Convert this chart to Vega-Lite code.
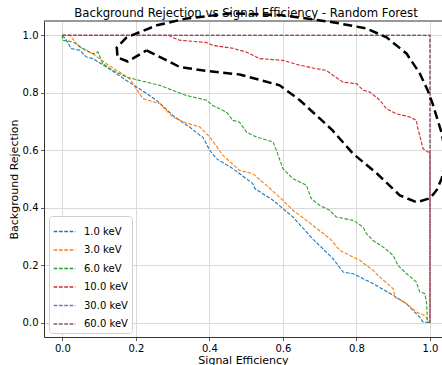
{
  "$schema": "https://vega.github.io/schema/vega-lite/v6.json",
  "width": 398,
  "height": 316,
  "autosize": {"type": "none"},
  "padding": {"left": 44, "top": 21, "right": 0, "bottom": 28},
  "config": {
    "font": "DejaVu Sans",
    "view": {"stroke": null},
    "axis": {
      "labelFontSize": 10,
      "labelColor": "#000",
      "titleFontSize": 11,
      "titleFontWeight": "normal",
      "titleColor": "#000",
      "tickSize": 3.5,
      "tickColor": "#333",
      "tickWidth": 0.8,
      "domainColor": "#333",
      "domainWidth": 1,
      "gridColor": "#d6d6d6",
      "gridWidth": 0.9,
      "labelPadding": 2.5
    }
  },
  "title": {
    "text": "Background Rejection vs Signal Efficiency - Random Forest",
    "fontSize": 11.7,
    "fontWeight": "normal",
    "color": "#000",
    "anchor": "middle",
    "offset": -11,
    "dx": 3
  },
  "datasets": {
    "roc": [
      {"s": "1.0 keV", "i": 0, "x": 0, "y": 1},
      {"s": "1.0 keV", "i": 1, "x": 0.01, "y": 0.985},
      {"s": "1.0 keV", "i": 2, "x": 0.024, "y": 0.954},
      {"s": "1.0 keV", "i": 3, "x": 0.047, "y": 0.948},
      {"s": "1.0 keV", "i": 4, "x": 0.065, "y": 0.925},
      {"s": "1.0 keV", "i": 5, "x": 0.083, "y": 0.919},
      {"s": "1.0 keV", "i": 6, "x": 0.12, "y": 0.89},
      {"s": "1.0 keV", "i": 7, "x": 0.174, "y": 0.843},
      {"s": "1.0 keV", "i": 8, "x": 0.21, "y": 0.814},
      {"s": "1.0 keV", "i": 9, "x": 0.256, "y": 0.774},
      {"s": "1.0 keV", "i": 10, "x": 0.3, "y": 0.722},
      {"s": "1.0 keV", "i": 11, "x": 0.319, "y": 0.704},
      {"s": "1.0 keV", "i": 12, "x": 0.346, "y": 0.681},
      {"s": "1.0 keV", "i": 13, "x": 0.374, "y": 0.652},
      {"s": "1.0 keV", "i": 14, "x": 0.382, "y": 0.646},
      {"s": "1.0 keV", "i": 15, "x": 0.401, "y": 0.6},
      {"s": "1.0 keV", "i": 16, "x": 0.419, "y": 0.571},
      {"s": "1.0 keV", "i": 17, "x": 0.464, "y": 0.536},
      {"s": "1.0 keV", "i": 18, "x": 0.518, "y": 0.484},
      {"s": "1.0 keV", "i": 19, "x": 0.524, "y": 0.466},
      {"s": "1.0 keV", "i": 20, "x": 0.573, "y": 0.426},
      {"s": "1.0 keV", "i": 21, "x": 0.627, "y": 0.368},
      {"s": "1.0 keV", "i": 22, "x": 0.682, "y": 0.29},
      {"s": "1.0 keV", "i": 23, "x": 0.736, "y": 0.223},
      {"s": "1.0 keV", "i": 24, "x": 0.764, "y": 0.176},
      {"s": "1.0 keV", "i": 25, "x": 0.791, "y": 0.17},
      {"s": "1.0 keV", "i": 26, "x": 0.845, "y": 0.136},
      {"s": "1.0 keV", "i": 27, "x": 0.9, "y": 0.095},
      {"s": "1.0 keV", "i": 28, "x": 0.936, "y": 0.066},
      {"s": "1.0 keV", "i": 29, "x": 0.972, "y": 0.019},
      {"s": "1.0 keV", "i": 30, "x": 0.981, "y": 0.002},
      {"s": "1.0 keV", "i": 31, "x": 1.0, "y": 0.0},

      {"s": "3.0 keV", "i": 0, "x": 0, "y": 1},
      {"s": "3.0 keV", "i": 1, "x": 0.02, "y": 1.0},
      {"s": "3.0 keV", "i": 2, "x": 0.047, "y": 0.959},
      {"s": "3.0 keV", "i": 3, "x": 0.083, "y": 0.936},
      {"s": "3.0 keV", "i": 4, "x": 0.12, "y": 0.901},
      {"s": "3.0 keV", "i": 5, "x": 0.156, "y": 0.872},
      {"s": "3.0 keV", "i": 6, "x": 0.183, "y": 0.849},
      {"s": "3.0 keV", "i": 7, "x": 0.201, "y": 0.814},
      {"s": "3.0 keV", "i": 8, "x": 0.219, "y": 0.78},
      {"s": "3.0 keV", "i": 9, "x": 0.265, "y": 0.762},
      {"s": "3.0 keV", "i": 10, "x": 0.3, "y": 0.716},
      {"s": "3.0 keV", "i": 11, "x": 0.337, "y": 0.695},
      {"s": "3.0 keV", "i": 12, "x": 0.374, "y": 0.681},
      {"s": "3.0 keV", "i": 13, "x": 0.401, "y": 0.646},
      {"s": "3.0 keV", "i": 14, "x": 0.437, "y": 0.582},
      {"s": "3.0 keV", "i": 15, "x": 0.482, "y": 0.53},
      {"s": "3.0 keV", "i": 16, "x": 0.518, "y": 0.519},
      {"s": "3.0 keV", "i": 17, "x": 0.555, "y": 0.478},
      {"s": "3.0 keV", "i": 18, "x": 0.6, "y": 0.426},
      {"s": "3.0 keV", "i": 19, "x": 0.627, "y": 0.391},
      {"s": "3.0 keV", "i": 20, "x": 0.664, "y": 0.356},
      {"s": "3.0 keV", "i": 21, "x": 0.73, "y": 0.29},
      {"s": "3.0 keV", "i": 22, "x": 0.754, "y": 0.252},
      {"s": "3.0 keV", "i": 23, "x": 0.791, "y": 0.228},
      {"s": "3.0 keV", "i": 24, "x": 0.809, "y": 0.217},
      {"s": "3.0 keV", "i": 25, "x": 0.845, "y": 0.182},
      {"s": "3.0 keV", "i": 26, "x": 0.863, "y": 0.159},
      {"s": "3.0 keV", "i": 27, "x": 0.9, "y": 0.118},
      {"s": "3.0 keV", "i": 28, "x": 0.905, "y": 0.089},
      {"s": "3.0 keV", "i": 29, "x": 0.936, "y": 0.066},
      {"s": "3.0 keV", "i": 30, "x": 0.963, "y": 0.037},
      {"s": "3.0 keV", "i": 31, "x": 0.986, "y": 0.025},
      {"s": "3.0 keV", "i": 32, "x": 0.995, "y": 0.008},
      {"s": "3.0 keV", "i": 33, "x": 1.0, "y": 0.0},

      {"s": "6.0 keV", "i": 0, "x": 0, "y": 1},
      {"s": "6.0 keV", "i": 1, "x": 0.0, "y": 0.983},
      {"s": "6.0 keV", "i": 2, "x": 0.029, "y": 0.977},
      {"s": "6.0 keV", "i": 3, "x": 0.056, "y": 0.954},
      {"s": "6.0 keV", "i": 4, "x": 0.083, "y": 0.936},
      {"s": "6.0 keV", "i": 5, "x": 0.097, "y": 0.942},
      {"s": "6.0 keV", "i": 6, "x": 0.11, "y": 0.901},
      {"s": "6.0 keV", "i": 7, "x": 0.138, "y": 0.878},
      {"s": "6.0 keV", "i": 8, "x": 0.174, "y": 0.855},
      {"s": "6.0 keV", "i": 9, "x": 0.21, "y": 0.843},
      {"s": "6.0 keV", "i": 10, "x": 0.265, "y": 0.826},
      {"s": "6.0 keV", "i": 11, "x": 0.301, "y": 0.808},
      {"s": "6.0 keV", "i": 12, "x": 0.337, "y": 0.791},
      {"s": "6.0 keV", "i": 13, "x": 0.392, "y": 0.774},
      {"s": "6.0 keV", "i": 14, "x": 0.41, "y": 0.755},
      {"s": "6.0 keV", "i": 15, "x": 0.446, "y": 0.733},
      {"s": "6.0 keV", "i": 16, "x": 0.464, "y": 0.704},
      {"s": "6.0 keV", "i": 17, "x": 0.482, "y": 0.698},
      {"s": "6.0 keV", "i": 18, "x": 0.501, "y": 0.663},
      {"s": "6.0 keV", "i": 19, "x": 0.528, "y": 0.646},
      {"s": "6.0 keV", "i": 20, "x": 0.573, "y": 0.629},
      {"s": "6.0 keV", "i": 21, "x": 0.582, "y": 0.6},
      {"s": "6.0 keV", "i": 22, "x": 0.6, "y": 0.536},
      {"s": "6.0 keV", "i": 23, "x": 0.627, "y": 0.501},
      {"s": "6.0 keV", "i": 24, "x": 0.664, "y": 0.478},
      {"s": "6.0 keV", "i": 25, "x": 0.677, "y": 0.432},
      {"s": "6.0 keV", "i": 26, "x": 0.7, "y": 0.408},
      {"s": "6.0 keV", "i": 27, "x": 0.727, "y": 0.391},
      {"s": "6.0 keV", "i": 28, "x": 0.745, "y": 0.368},
      {"s": "6.0 keV", "i": 29, "x": 0.791, "y": 0.356},
      {"s": "6.0 keV", "i": 30, "x": 0.818, "y": 0.333},
      {"s": "6.0 keV", "i": 31, "x": 0.827, "y": 0.31},
      {"s": "6.0 keV", "i": 32, "x": 0.845, "y": 0.286},
      {"s": "6.0 keV", "i": 33, "x": 0.873, "y": 0.263},
      {"s": "6.0 keV", "i": 34, "x": 0.9, "y": 0.234},
      {"s": "6.0 keV", "i": 35, "x": 0.913, "y": 0.199},
      {"s": "6.0 keV", "i": 36, "x": 0.936, "y": 0.171},
      {"s": "6.0 keV", "i": 37, "x": 0.963, "y": 0.141},
      {"s": "6.0 keV", "i": 38, "x": 0.972, "y": 0.107},
      {"s": "6.0 keV", "i": 39, "x": 0.986, "y": 0.101},
      {"s": "6.0 keV", "i": 40, "x": 0.991, "y": 0.066},
      {"s": "6.0 keV", "i": 41, "x": 0.993, "y": 0.002},
      {"s": "6.0 keV", "i": 42, "x": 1.0, "y": 0.0},

      {"s": "10.0 keV", "i": 0, "x": 0, "y": 1},
      {"s": "10.0 keV", "i": 1, "x": 0.29, "y": 1.0},
      {"s": "10.0 keV", "i": 2, "x": 0.3, "y": 0.992},
      {"s": "10.0 keV", "i": 3, "x": 0.319, "y": 0.983},
      {"s": "10.0 keV", "i": 4, "x": 0.392, "y": 0.975},
      {"s": "10.0 keV", "i": 5, "x": 0.41, "y": 0.965},
      {"s": "10.0 keV", "i": 6, "x": 0.464, "y": 0.955},
      {"s": "10.0 keV", "i": 7, "x": 0.5, "y": 0.942},
      {"s": "10.0 keV", "i": 8, "x": 0.537, "y": 0.919},
      {"s": "10.0 keV", "i": 9, "x": 0.6, "y": 0.913},
      {"s": "10.0 keV", "i": 10, "x": 0.646, "y": 0.896},
      {"s": "10.0 keV", "i": 11, "x": 0.691, "y": 0.884},
      {"s": "10.0 keV", "i": 12, "x": 0.718, "y": 0.878},
      {"s": "10.0 keV", "i": 13, "x": 0.736, "y": 0.861},
      {"s": "10.0 keV", "i": 14, "x": 0.764, "y": 0.837},
      {"s": "10.0 keV", "i": 15, "x": 0.8, "y": 0.832},
      {"s": "10.0 keV", "i": 16, "x": 0.818, "y": 0.809},
      {"s": "10.0 keV", "i": 17, "x": 0.836, "y": 0.803},
      {"s": "10.0 keV", "i": 18, "x": 0.864, "y": 0.774},
      {"s": "10.0 keV", "i": 19, "x": 0.881, "y": 0.745},
      {"s": "10.0 keV", "i": 20, "x": 0.909, "y": 0.727},
      {"s": "10.0 keV", "i": 21, "x": 0.945, "y": 0.716},
      {"s": "10.0 keV", "i": 22, "x": 0.963, "y": 0.704},
      {"s": "10.0 keV", "i": 23, "x": 0.966, "y": 0.681},
      {"s": "10.0 keV", "i": 24, "x": 0.972, "y": 0.652},
      {"s": "10.0 keV", "i": 25, "x": 0.981, "y": 0.606},
      {"s": "10.0 keV", "i": 26, "x": 0.994, "y": 0.594},
      {"s": "10.0 keV", "i": 27, "x": 1.0, "y": 0.594},
      {"s": "10.0 keV", "i": 28, "x": 1.0, "y": 0.0},

      {"s": "30.0 keV", "i": 0, "x": 0, "y": 1},
      {"s": "30.0 keV", "i": 1, "x": 1.0, "y": 1},
      {"s": "30.0 keV", "i": 2, "x": 1.0, "y": 0},

      {"s": "60.0 keV", "i": 0, "x": 0, "y": 1},
      {"s": "60.0 keV", "i": 1, "x": 1.0, "y": 1},
      {"s": "60.0 keV", "i": 2, "x": 1.0, "y": 0}
    ],
    "ann": [
      {"i": 1, "x": 0.229, "y": 0.948},
      {"i": 2, "x": 0.319, "y": 0.89},
      {"i": 3, "x": 0.393, "y": 0.876},
      {"i": 4, "x": 0.482, "y": 0.864},
      {"i": 5, "x": 0.591, "y": 0.826},
      {"i": 6, "x": 0.646, "y": 0.774},
      {"i": 7, "x": 0.7, "y": 0.711},
      {"i": 8, "x": 0.735, "y": 0.669},
      {"i": 9, "x": 0.79, "y": 0.589},
      {"i": 10, "x": 0.855, "y": 0.52},
      {"i": 11, "x": 0.918, "y": 0.443},
      {"i": 12, "x": 0.964, "y": 0.419},
      {"i": 13, "x": 1.0, "y": 0.433},
      {"i": 14, "x": 1.018, "y": 0.461},
      {"i": 15, "x": 1.032, "y": 0.502},
      {"i": 16, "x": 1.043, "y": 0.582},
      {"i": 17, "x": 1.032, "y": 0.659},
      {"i": 18, "x": 1.007, "y": 0.763},
      {"i": 19, "x": 0.994, "y": 0.808},
      {"i": 20, "x": 0.972, "y": 0.868},
      {"i": 21, "x": 0.936, "y": 0.937},
      {"i": 22, "x": 0.882, "y": 0.993},
      {"i": 23, "x": 0.827, "y": 1.024},
      {"i": 24, "x": 0.735, "y": 1.046},
      {"i": 25, "x": 0.599, "y": 1.07},
      {"i": 26, "x": 0.463, "y": 1.077},
      {"i": 27, "x": 0.338, "y": 1.059},
      {"i": 28, "x": 0.257, "y": 1.035},
      {"i": 29, "x": 0.175, "y": 0.993},
      {"i": 30, "x": 0.148, "y": 0.958},
      {"i": 31, "x": 0.15, "y": 0.923},
      {"i": 32, "x": 0.178, "y": 0.909},
      {"i": 33, "x": 0.229, "y": 0.948}
    ]
  },
  "layer": [
    {
      "data": {"name": "roc"},
      "mark": {"type": "line", "strokeWidth": 1.1, "strokeDash": [3.7, 1.6]},
      "encoding": {
        "x": {
          "field": "x", "type": "quantitative",
          "scale": {"domain": [-0.05, 1.0327], "nice": false, "zero": false},
          "axis": {"values": [0, 0.2, 0.4, 0.6, 0.8, 1.0], "format": ".1f", "title": "Signal Efficiency", "titlePadding": 1}
        },
        "y": {
          "field": "y", "type": "quantitative",
          "scale": {"domain": [-0.05, 1.05], "nice": false, "zero": false},
          "axis": {"values": [0, 0.2, 0.4, 0.6, 0.8, 1.0], "format": ".1f", "title": "Background Rejection", "titlePadding": 3}
        },
        "color": {
          "field": "s", "type": "nominal",
          "scale": {
            "domain": ["1.0 keV", "3.0 keV", "6.0 keV", "10.0 keV", "30.0 keV", "60.0 keV"],
            "range": ["#1f77b4", "#ff7f0e", "#2ca02c", "#d62728", "#9467bd", "#8c564b"]
          },
          "legend": {
            "title": null,
            "orient": "bottom-left",
            "offset": 4.5,
            "symbolType": "stroke",
            "symbolSize": 470,
            "symbolStrokeWidth": 1.3,
            "symbolDash": [3.7, 1.6],
            "labelFontSize": 10,
            "labelColor": "#000",
            "labelOffset": 8,
            "fillColor": "rgba(255,255,255,0.85)",
            "strokeColor": "#d0d0d0",
            "cornerRadius": 3,
            "padding": 4,
            "rowPadding": 1.5
          }
        },
        "order": {"field": "i"}
      }
    },
    {
      "data": {"values": [{}]},
      "mark": {"type": "rule", "color": "#333", "strokeWidth": 1},
      "encoding": {"y": {"datum": 1.05}}
    },
    {
      "data": {"name": "ann"},
      "mark": {"type": "line", "color": "#000", "strokeWidth": 2.5, "strokeDash": [9, 4.5]},
      "encoding": {
        "x": {"field": "x", "type": "quantitative"},
        "y": {"field": "y", "type": "quantitative"},
        "order": {"field": "i"}
      }
    }
  ]
}
